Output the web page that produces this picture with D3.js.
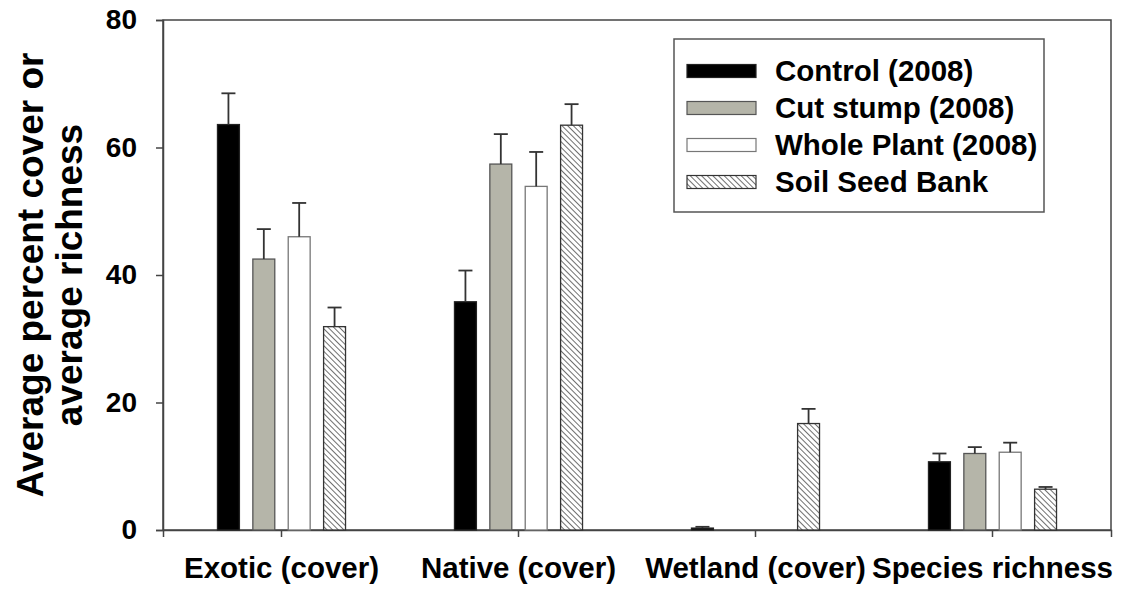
<!DOCTYPE html>
<html>
<head>
<meta charset="utf-8">
<script src="https://cdn.jsdelivr.net/npm/d3@7"></script>
<style>
    body { margin: 0; background: #fff; }
    text { font-family: "Liberation Sans", Arial, sans-serif; font-weight: bold; fill: #000; }
</style>
</head>
<body>
<script>

// Chart data
const categories = ["Exotic (cover)", "Native (cover)", "Wetland (cover)", "Species richness"];
const seriesNames = ["Control (2008)", "Cut stump (2008)", "Whole Plant (2008)", "Soil Seed Bank"];
const controlMeans = [63.6, 35.8, 0.3, 10.7];
const cutStumpMeans = [42.5, 57.4, 0, 12.0];
const wholePlantMeans = [46.0, 53.9, 0, 12.2];
const seedBankMeans = [31.9, 63.5, 16.7, 6.4];
const controlErr = [4.9, 4.9, 0.2, 1.3];
const cutStumpErr = [4.7, 4.7, 0, 1.0];
const wholePlantErr = [5.3, 5.4, 0, 1.5];
const seedBankErr = [3.0, 3.3, 2.3, 0.35];
const yTicks = [0, 20, 40, 60, 80];

// SVG dimensions
const outerWidth = 1125, outerHeight = 590;
const plotLeft = 163, plotRight = 1111, plotTop = 20, plotBottom = 530;

const means = [controlMeans, cutStumpMeans, wholePlantMeans, seedBankMeans];
const errs = [controlErr, cutStumpErr, wholePlantErr, seedBankErr];
const fills = ["#000", "#b5b5a9", "#fff", "url(#hatch)"];
const strokes = ["#222", "#555", "#777", "#333"];

// Flatten into one record per bar
let bars = [];
seriesNames.forEach((s, i) => {
    categories.forEach((c, j) => {
        bars.push({ series: s, cat: c, value: means[i][j], err: errs[i][j], idx: i });
    });
});

let svg = d3.select("body")
    .append("svg")
    .attr("width", outerWidth)
    .attr("height", outerHeight);

// Diagonal hatch pattern
svg.append("defs")
    .append("pattern")
    .attr("id", "hatch")
    .attr("patternUnits", "userSpaceOnUse")
    .attr("width", 4)
    .attr("height", 4)
    .attr("patternTransform", "rotate(-45)")
    .call(p => {
        p.append("rect").attr("width", 4).attr("height", 4).attr("fill", "#fff");
        p.append("line")
            .attr("x1", 0).attr("y1", 0).attr("x2", 0).attr("y2", 4)
            .attr("stroke", "#222").attr("stroke-width", 1.3);
    });

// Scales
let x0 = d3.scaleBand()
    .domain(categories)
    .range([plotLeft, plotRight]);
let x1 = d3.scaleBand()
    .domain(seriesNames)
    .range([0, x0.bandwidth()])
    .paddingInner(0.38)
    .paddingOuter(1.54);
let y = d3.scaleLinear()
    .domain([0, 80])
    .range([plotBottom, plotTop]);

// Frame
svg.append("rect")
    .attr("x", plotLeft).attr("y", plotTop)
    .attr("width", plotRight - plotLeft).attr("height", plotBottom - plotTop)
    .attr("fill", "none")
    .attr("stroke", "#444")
    .attr("stroke-width", 1.5);

// Y axis
let yAxis = svg.append("g")
    .attr("transform", `translate(${plotLeft}, 0)`)
    .call(d3.axisLeft(y).tickValues(yTicks).tickSize(7).tickPadding(19));
yAxis.select(".domain").attr("stroke", "#444").attr("stroke-width", 1.5);
yAxis.selectAll(".tick line").attr("stroke", "#444").attr("stroke-width", 1.5);
yAxis.selectAll("text").style("font-size", "28px").attr("fill", "#000");

// X axis
let xAxis = svg.append("g")
    .attr("transform", `translate(0, ${plotBottom})`)
    .call(d3.axisBottom(x0).tickSize(7).tickPadding(0));
xAxis.select(".domain").attr("stroke", "#444").attr("stroke-width", 1.5);
xAxis.selectAll(".tick line").attr("stroke", "#444").attr("stroke-width", 1.5);
xAxis.selectAll("text")
    .style("font-size", "29.5px")
    .attr("fill", "#000")
    .attr("dy", null)
    .attr("y", 48);

// Bars (skip zero values)
let shown = bars.filter(d => d.value > 0);
svg.selectAll("rect.bar")
    .data(shown)
    .enter()
    .append("rect")
    .attr("class", "bar")
    .attr("x", d => x0(d.cat) + x1(d.series))
    .attr("y", d => y(d.value))
    .attr("width", x1.bandwidth())
    .attr("height", d => y(0) - y(d.value))
    .attr("fill", d => fills[d.idx])
    .attr("stroke", d => strokes[d.idx])
    .attr("stroke-width", 1.3);

// Error bars (upper only)
let capHalf = 7;
let eb = svg.selectAll("g.err")
    .data(shown)
    .enter()
    .append("g")
    .attr("class", "err")
    .attr("stroke", "#333")
    .attr("stroke-width", 1.8);
eb.append("line")
    .attr("x1", d => x0(d.cat) + x1(d.series) + x1.bandwidth()/2)
    .attr("x2", d => x0(d.cat) + x1(d.series) + x1.bandwidth()/2)
    .attr("y1", d => y(d.value))
    .attr("y2", d => y(d.value + d.err));
eb.append("line")
    .attr("x1", d => x0(d.cat) + x1(d.series) + x1.bandwidth()/2 - capHalf)
    .attr("x2", d => x0(d.cat) + x1(d.series) + x1.bandwidth()/2 + capHalf)
    .attr("y1", d => y(d.value + d.err))
    .attr("y2", d => y(d.value + d.err));

// Y axis title, two lines
const titleLines = ["Average percent cover or", "average richness"];
svg.selectAll("text.ytitle")
    .data(titleLines)
    .enter()
    .append("text")
    .attr("class", "ytitle")
    .attr("transform", (d, i) => `translate(${43 + i*39}, 275) rotate(-90)`)
    .attr("text-anchor", "middle")
    .style("font-size", "37px")
    .text(d => d);

// Legend
let legend = svg.append("g");
legend.append("rect")
    .attr("x", 674).attr("y", 39)
    .attr("width", 370).attr("height", 173)
    .attr("fill", "#fff")
    .attr("stroke", "#555")
    .attr("stroke-width", 1.5);
let rows = legend.selectAll("g.row")
    .data(seriesNames)
    .enter()
    .append("g")
    .attr("class", "row")
    .attr("transform", (d, i) => `translate(0, ${71 + i*37})`);
rows.append("rect")
    .attr("x", 687).attr("y", -6.5)
    .attr("width", 69).attr("height", 13)
    .attr("fill", (d, i) => fills[i])
    .attr("stroke", (d, i) => strokes[i])
    .attr("stroke-width", 1.2);
rows.append("text")
    .attr("x", 775)
    .attr("dy", "0.35em")
    .style("font-size", "29.5px")
    .text(d => d);

</script>
</body>
</html>
